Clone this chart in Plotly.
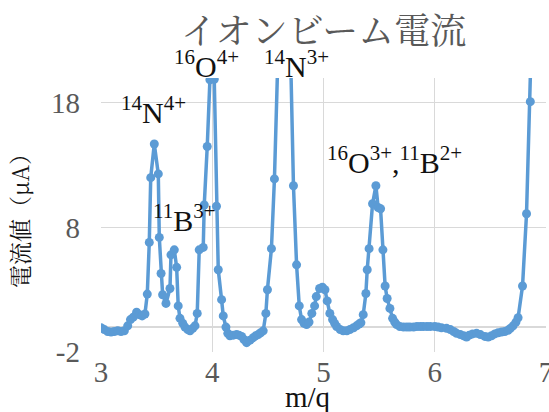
import plotly.graph_objects as go

mq = [3.00, 3.03, 3.06, 3.09, 3.12, 3.15, 3.18, 3.21, 3.24, 3.265, 3.29, 3.32, 3.345, 3.37, 3.395,
      3.416, 3.434, 3.447, 3.479, 3.515, 3.524, 3.54, 3.554, 3.584, 3.62, 3.629, 3.659, 3.68, 3.694,
      3.71, 3.735, 3.755, 3.78, 3.80, 3.825, 3.845, 3.865, 3.883, 3.919, 3.928, 3.955, 3.979, 4.018,
      4.038, 4.054, 4.084, 4.099, 4.123, 4.14, 4.159, 4.19, 4.219, 4.24, 4.264, 4.285, 4.309, 4.34,
      4.368, 4.39, 4.413, 4.435, 4.458, 4.482, 4.496, 4.532, 4.559, 4.59, 4.626, 4.662, 4.694, 4.73,
      4.758, 4.782, 4.803, 4.825, 4.848, 4.87, 4.895, 4.92, 4.935, 4.965, 4.99, 5.013, 5.033, 5.057,
      5.082, 5.10, 5.118, 5.15, 5.177, 5.21, 5.237, 5.27, 5.297, 5.32, 5.336, 5.357, 5.381, 5.393,
      5.41, 5.441, 5.471, 5.491, 5.513, 5.534, 5.554, 5.572, 5.597, 5.621, 5.64, 5.657, 5.686, 5.72,
      5.75, 5.776, 5.81, 5.84, 5.87, 5.896, 5.93, 5.96, 6.0, 6.03, 6.06, 6.106, 6.14, 6.17, 6.196,
      6.23, 6.26, 6.286, 6.31, 6.34, 6.376, 6.41, 6.45, 6.48, 6.51, 6.54, 6.57, 6.6, 6.63, 6.659,
      6.68, 6.704, 6.73, 6.749, 6.789, 6.825, 6.859, 6.89]

current = [-0.05, -0.2, -0.35, -0.4, -0.35, -0.3, -0.35, -0.3, 0.1, 0.6, 0.8, 1.2, 1.0, 0.9, 1.05,
           2.65, 6.8, 12.0, 14.7, 12.3, 7.2, 4.3, 2.6, 1.9, 3.1, 5.8, 6.2, 4.8, 1.7,
           0.7, 0.3, 0.0, -0.2, -0.3, -0.1, 0.1, 1.1, 6.2, 6.4, 9.8, 14.5, 19.85, 19.9,
           9.7, 4.6, 2.2, 0.9, 0.0, -0.5, -0.7, -0.65, -0.6, -0.65, -0.75, -1.0, -1.25, -1.05,
           -0.85, -0.7, -0.6, -0.45, -0.3, 1.1, 3.0, 6.3, 11.9, 28, 33, 30, 26, 11.35,
           5.0, 1.7, 0.6, 0.3, 0.2, 0.4, 1.1, 1.7, 2.45, 3.1, 3.2, 3.0, 2.1, 1.1,
           0.6, 0.3, 0.05, -0.2, -0.3, -0.3, -0.2, -0.05, 0.1, 0.25, 0.35, 1.0, 2.7, 4.6,
           6.3, 9.9, 11.35, 9.6, 9.5, 6.2, 3.3, 2.3, 1.5, 0.7, 0.4, 0.2, 0.05, 0.0,
           0.0, 0.0, 0.0, 0.05, 0.05, 0.05, 0.05, 0.05, 0.05, 0.0, -0.05, -0.1, -0.2, -0.35, -0.5,
           -0.6, -0.7, -0.8, -0.65, -0.55, -0.5, -0.6, -0.75, -0.8, -0.7, -0.55, -0.45, -0.4, -0.35, -0.25,
           -0.1, 0.1, 0.4, 0.75, 3.3, 9.1, 18.1, 30]

# peak labels: (text, m/q position, vertical position in plot-height fractions)
labels = ["<sup>14</sup>N<sup>4+</sup>", "<sup>11</sup>B<sup>3+</sup>", "<sup>16</sup>O<sup>4+</sup>",
          "<sup>14</sup>N<sup>3+</sup>", "<sup>16</sup>O<sup>3+</sup>,<sup>11</sup>B<sup>2+</sup>"]
label_x = [3.476, 3.755, 3.95, 4.76, 5.64]
label_y = [0.885, 0.49, 1.05, 1.05, 0.70]

x_ticks = [3, 4, 5, 6, 7]
y_ticks = [-2, 8, 18]
y_tick_text = ["-2", "8", "18"]

blue = "#5B9BD5"
grey = "#595959"
serif = "Liberation Serif, Noto Serif CJK JP, Noto Sans CJK JP, serif"
cjk = "Noto Serif CJK JP, Noto Sans CJK JP, serif"

fig = go.Figure()
fig.add_trace(go.Scatter(
    x=mq, y=current, mode="lines+markers",
    line=dict(color=blue, width=3.5),
    marker=dict(color=blue, size=9),
    showlegend=False,
))

for t, lx, ly in zip(labels, label_x, label_y):
    fig.add_annotation(x=lx, y=ly, xref="x", yref="paper", text=t, showarrow=False,
                       yanchor="middle", font=dict(family=serif, size=30, color="#111111"))

# x-axis title placed slightly left of centre, as in the original
fig.add_annotation(x=0.465, y=-0.164, xref="paper", yref="paper", text="m/q", showarrow=False,
                   xanchor="center", yanchor="middle",
                   font=dict(family=serif, size=29, color="#111111"))

fig.update_layout(
    width=549, height=412,
    margin=dict(l=101, r=3, t=78, b=60),
    paper_bgcolor="white", plot_bgcolor="white",
    title=dict(text="イオンビーム電流", x=0.5, xanchor="center", xref="paper",
               y=1 - 31 / 412, yanchor="middle",
               font=dict(family=cjk, size=36, color=grey)),
    xaxis=dict(range=[3, 7], tickvals=x_ticks, showgrid=True, gridcolor="#D9D9D9", gridwidth=1.2,
               zeroline=False, showline=False, ticklabeloverflow="allow", automargin=False,
               tickfont=dict(family=serif, size=29, color=grey)),
    yaxis=dict(range=[-2, 20], tickvals=y_ticks, ticktext=y_tick_text, showgrid=True,
               gridcolor="#D9D9D9", gridwidth=1.2, automargin=False,
               zeroline=True, zerolinecolor="#D9D9D9", zerolinewidth=1.5,
               showline=False, ticklabelstandoff=20,
               tickfont=dict(family=serif, size=29, color=grey),
               title=dict(text="電流値（μA）", font=dict(family=cjk, size=23, color="#111111"),
                          standoff=14)),
)

fig.write_html("out.html")
